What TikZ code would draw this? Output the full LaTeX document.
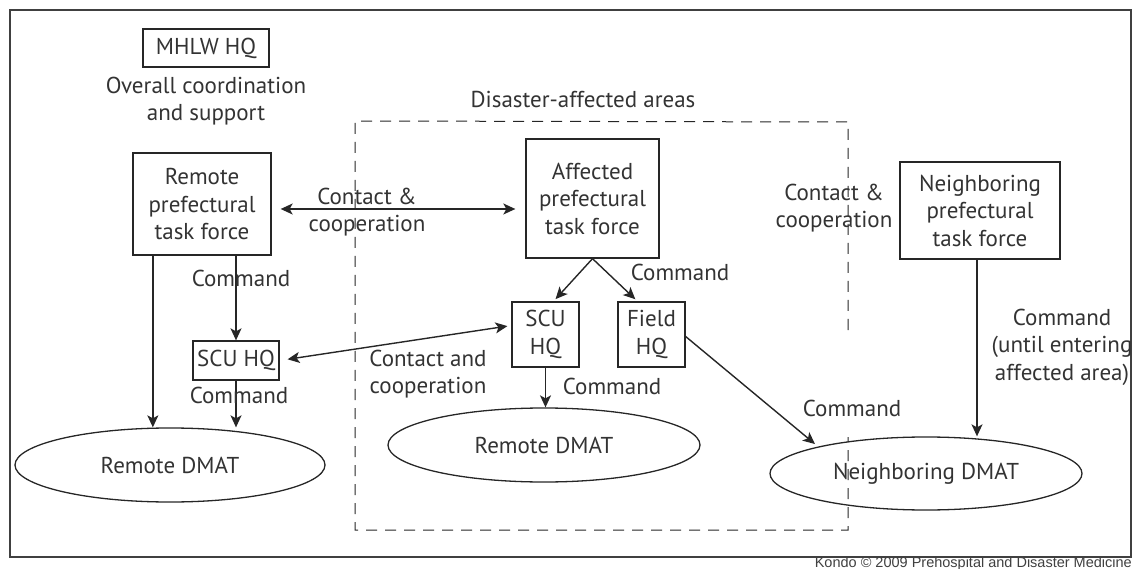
\documentclass[tikz,border=0pt]{standalone}
\usepackage{fontspec}
\setmainfont{PT Sans}
\newfontfamily\creditfont{Liberation Sans}
\usetikzlibrary{arrows.meta,shapes.geometric,calc}

\begin{document}
\begin{tikzpicture}[
  x=1pt, y=-1pt,
  font=\fontsize{23}{27.5}\selectfont, text=black!80,
  box/.style={draw=black!85, line width=1.3pt, align=center, inner sep=0pt},
  dmat/.style={draw=black!85, ellipse, line width=1.3pt, inner sep=0pt},
  lbl/.style={align=center, inner sep=0pt},
  arr/.style={draw=black!85, line width=1.4pt, -{Stealth[length=12pt,width=11pt,inset=3pt]}},
  arrs/.style={draw=black!85, line width=1.4pt, {Stealth[length=12pt,width=11pt,inset=3pt]}-{Stealth[length=12pt,width=11pt,inset=3pt]}},
  area/.style={draw=black!85, line width=1pt, dash pattern=on 11pt off 8pt}
]
\useasboundingbox (0,0) rectangle (1135,569);
\draw[black!75, line width=1.2pt] (10,10) rectangle (1131,557);

% disaster-affected area
\coordinate (ne) at (848,122);
\coordinate (nw) at (355,121);
\coordinate (sw) at (355,530);
\coordinate (se) at (848,530);
\draw[area] (848,330) -- (ne) -- (nw) -- (sw) -- (se) -- (848,437);
\node[lbl] (areaname) at (583,99) {Disaster-affected areas};

% boxes
\node[box, minimum width=126pt, minimum height=38pt] (mhlw) at (206,48) {MHLW HQ};
\node[lbl] (mhlwtxt) at (206,101) {Overall coordination\\and support};
\node[box, minimum width=138pt, minimum height=102pt] (rtf) at (202,204) {Remote\\prefectural\\task force};
\node[box, minimum width=133pt, minimum height=119pt] (atf) at (592.5,198.5) {Affected\\prefectural\\task force};
\node[box, minimum width=160pt, minimum height=97pt] (ntf) at (980,210.5) {Neighboring\\prefectural\\task force};
\node[box, minimum width=86pt, minimum height=39pt] (lscu) at (236,360.5) {SCU HQ};
\node[box, minimum width=67pt, minimum height=65pt] (rscu) at (545.5,334.5) {SCU\\HQ};
\node[box, minimum width=67pt, minimum height=65pt] (fhq) at (651.5,334.5) {Field\\HQ};

% DMATs
\node[dmat, minimum width=310pt, minimum height=74pt] (ldmat) at (170,465) {Remote DMAT};
\node[dmat, minimum width=312pt, minimum height=74pt] (mdmat) at (544,445) {Remote DMAT};
\node[dmat, minimum width=312pt, minimum height=73pt] (ndmat) at (926,473.5) {Neighboring DMAT};

% connectors
\coordinate (rtfleg) at ($(rtf.south west)+(20.5,0)$);
\draw[arr] (rtfleg) -- (rtfleg |- ldmat.north);
\draw[arr] (rtf.south -| lscu.north) -- (lscu.north);
\draw[arr] (lscu.south) -- (lscu.south |- ldmat.north);
\draw[arrs, shorten <=9pt, shorten >=10pt] ([yshift=-5pt]rtf.east) -- ([yshift=-5pt]rtf.east -| atf.west);
\draw[arrs, shorten <=8pt, shorten >=4pt] (lscu.east) -- ([yshift=9pt]rscu.west);
\draw[arr, shorten >=3pt] (atf.south) -- ([xshift=8pt]rscu.north);
\draw[arr, shorten >=3pt] (atf.south) -- ([xshift=-14pt]fhq.north);
\draw[arr] (rscu.south) -- (rscu.south |- mdmat.north);
\draw[arr, shorten >=4pt] ([yshift=-2pt]fhq.east) -- (ndmat.166);
\draw[arr] ([xshift=-3pt]ntf.south) -- ([xshift=-3pt]ntf.south |- ndmat.north);

% connector labels
\node[lbl] (cc1) at (367,212) {Contact \&\\cooperation};
\node[lbl] (cmd1) at (241,278) {Command};
\node[lbl] (cmd2) at (239,395) {Command};
\node[lbl] (cc2) at (428,374) {Contact and\\cooperation};
\node[lbl] (cmd3) at (680,272) {Command};
\node[lbl] (cmd4) at (612,386) {Command};
\node[lbl] (cc3) at (834,208) {Contact \&\\cooperation};
\node[lbl] (cmd5) at (1062,347) {Command\\(until entering\\affected area)};
\node[lbl] (cmd6) at (852,408) {Command};

\node[anchor=base east, inner sep=0pt, font=\creditfont\fontsize{14.5}{16}\selectfont, text=black!75] (credit) at (1132,567.5) {Kondo \textcopyright\ 2009 Prehospital and Disaster Medicine};
\end{tikzpicture}
\end{document}
